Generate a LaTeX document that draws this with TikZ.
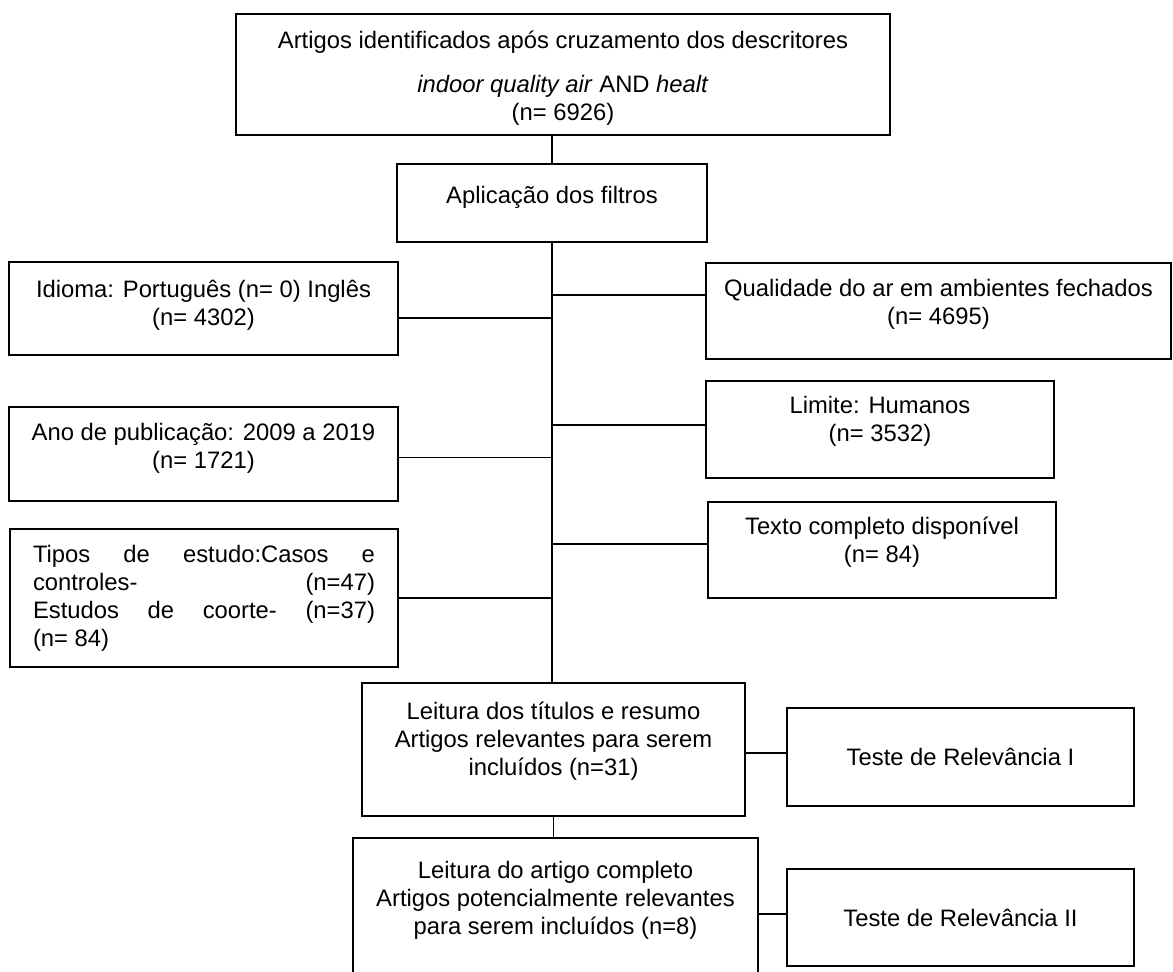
\documentclass[tikz,border=0pt]{standalone}
\usepackage{fontspec}
\setmainfont{Liberation Sans}
\tikzset{
  box/.style={draw, line width=1pt, align=center, inner sep=0pt, font=\fontsize{11.9pt}{14pt}\selectfont},
  lift/.style={text depth=#1},
  link/.style={line width=0.75pt}
}

\begin{document}
\begin{tikzpicture}[x=0.5pt,y=-0.5pt]
    \useasboundingbox (0,0) rectangle (1173,971);

    \node[box, minimum width=327pt, minimum height=60.5pt] (ident) at (563,74.5)
        {\rule{0pt}{12pt}Artigos identificados após cruzamento dos descritores\\[8pt]
         \textit{indoor quality air} AND \textit{healt}\hspace*{18pt}\\
         (n= 6926)};
    \node[box, minimum width=155pt, minimum height=39pt, lift=8.5pt] (aplic) at (552,203)
        {Aplicação dos filtros};

    \node[box, minimum width=194.5pt, minimum height=46.5pt, lift=6.1pt] (idioma) at (203.5,308.5)
        {Idioma: Português (n= 0) Inglês\\(n= 4302)};
    \node[box, minimum width=194.5pt, minimum height=47pt, lift=8.1pt] (ano) at (203.5,453.5)
        {Ano de publicação: 2009 a 2019\\(n= 1721)};
    \node[box, minimum width=194pt, minimum height=69pt, text width=171pt, align=justify] (tipos) at (204,598)
        {\noindent Tipos de estudo:Casos e\linebreak controles- (n=47)\linebreak Estudos de coorte- (n=37)\linebreak (n= 84)};

    \node[box, minimum width=232.5pt, minimum height=48pt, lift=9.6pt] (quali) at (938.5,311)
        {Qualidade do ar em ambientes fechados\\(n= 4695)};
    \node[box, minimum width=174pt, minimum height=48.5pt, lift=10.6pt] (limite) at (880,429.5)
        {Limite: Humanos\\(n= 3532)};
    \node[box, minimum width=174pt, minimum height=48pt, lift=10.1pt] (texto) at (882,550)
        {Texto completo disponível\\(n= 84)};

    \node[box, minimum width=191.5pt, minimum height=66.5pt, lift=10.6pt] (leitura) at (553.5,749.5)
        {Leitura dos títulos e resumo\\Artigos relevantes para serem\\incluídos (n=31)};
    \node[box, minimum width=173.5pt, minimum height=49pt] (teste1) at (960.5,757)
        {Teste de Relevância I};
    \node[box, minimum width=202.5pt, minimum height=76pt, lift=16.1pt] (artigo) at (555.5,914)
        {Leitura do artigo completo\\Artigos potencialmente relevantes\\para serem incluídos (n=8)};
    \node[box, minimum width=173.5pt, minimum height=48.5pt] (teste2) at (960.5,917.5)
        {Teste de Relevância II};

    \draw[link] (aplic.north) -- (aplic.north |- ident.south);
    \draw[link] (aplic.south) -- (aplic.south |- leitura.north);
    \draw[link] (leitura.south) -- (leitura.south |- artigo.north);

    \draw[link] ([yshift=-4.75pt]idioma.east) -- ([yshift=-4.75pt]idioma.east -| aplic.south);
    \draw[link] ([yshift=-2pt]ano.east) -- ([yshift=-2pt]ano.east -| aplic.south);
    \draw[link] (tipos.east) -- (tipos.east -| aplic.south);
    \draw[link] ([yshift=8pt]quali.west) -- ([yshift=8pt]quali.west -| aplic.south);
    \draw[link] ([yshift=2.25pt]limite.west) -- ([yshift=2.25pt]limite.west -| aplic.south);
    \draw[link] ([yshift=3pt]texto.west) -- ([yshift=3pt]texto.west -| aplic.south);
    \draw[link] ([yshift=2pt]teste1.west) -- ([yshift=2pt]teste1.west -| leitura.east);
    \draw[link] ([yshift=1.75pt]teste2.west) -- ([yshift=1.75pt]teste2.west -| artigo.east);
\end{tikzpicture}
\end{document}
